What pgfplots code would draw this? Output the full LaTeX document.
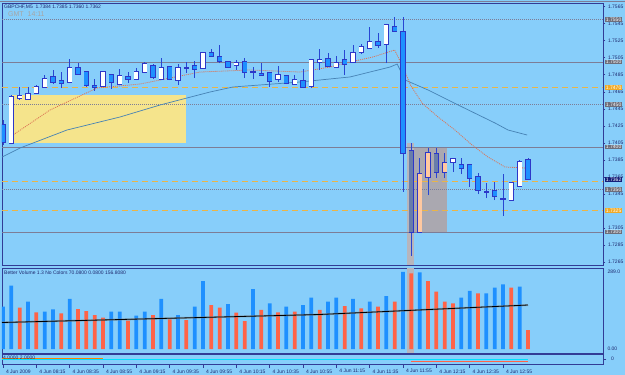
\documentclass[border=0pt]{standalone}
\usepackage{fontspec}
\setmainfont{Liberation Sans}
\usepackage{pgfplots}
\usepackage{pgfplotstable}
\pgfplotsset{compat=1.18}
\definecolor{bg}{RGB}{135,206,250}
\definecolor{axisblue}{RGB}{50,60,150}
\definecolor{navytxt}{RGB}{30,40,110}
\definecolor{wickc}{RGB}{40,70,210}
\definecolor{outc}{RGB}{45,55,200}
\definecolor{bearfill}{RGB}{30,144,255}
\definecolor{peach}{RGB}{255,200,160}
\definecolor{grayblue}{RGB}{105,125,170}
\definecolor{volblue}{RGB}{30,144,255}
\definecolor{volred}{RGB}{255,99,71}
\definecolor{hgray}{RGB}{125,125,150}
\definecolor{horange}{RGB}{235,180,70}
\definecolor{madot}{RGB}{220,115,85}
\definecolor{mablue}{RGB}{70,130,180}
\definecolor{yellowbox}{RGB}{245,228,140}
\definecolor{rectgray}{RGB}{170,168,176}
\definecolor{boxgray}{RGB}{110,110,122}
\definecolor{boxorange}{RGB}{240,170,40}
\definecolor{boxnavy}{RGB}{20,30,120}
\definecolor{indcyan}{RGB}{0,225,255}

\pgfplotstableread{
x lo hi l h
1 1.74047 1.74588 1.74047 1.74612
2 1.74576 1.74600 1.74553 1.74706
3 1.74565 1.74624 1.74565 1.74706
4 1.74635 1.74706 1.74624 1.74729
5 1.74706 1.74800 1.74706 1.74847
8 1.74765 1.74929 1.74753 1.75035
12 1.74718 1.74882 1.74706 1.74882
14 1.74741 1.74835 1.74729 1.74918
16 1.74800 1.74882 1.74788 1.74929
17 1.74882 1.74976 1.74871 1.75000
19 1.74800 1.74929 1.74788 1.75047
21 1.74788 1.74929 1.74729 1.74976
22 1.74929 1.74929 1.74871 1.75000
24 1.74929 1.75106 1.74918 1.75118
28 1.74965 1.74988 1.74906 1.75024
30 1.74882 1.74882 1.74800 1.74941
33 1.74800 1.74847 1.74765 1.74953
35 1.74741 1.74788 1.74741 1.74847
37 1.74718 1.75024 1.74694 1.75024
38 1.75000 1.75024 1.74906 1.75153
40 1.74941 1.74988 1.74929 1.75071
42 1.75000 1.75106 1.75000 1.75200
43 1.75118 1.75176 1.75094 1.75212
44 1.75165 1.75235 1.75165 1.75412
46 1.75212 1.75435 1.74988 1.75435
54 1.73824 1.73859 1.73706 1.73859
58 1.73471 1.73471 1.73400 1.73576
60 1.73388 1.73388 1.73188 1.73682
61 1.73376 1.73576 1.73376 1.73576
62 1.73541 1.73824 1.73541 1.73847
}\bull

\pgfplotstableread{
x lo hi l h
50 1.73000 1.73682 1.73000 1.73871
51 1.73647 1.73929 1.73435 1.73988
53 1.73706 1.73812 1.73635 1.73929
}\peachc

\pgfplotstableread{
x lo hi l h
0 1.74059 1.74259 1.74024 1.74318
6 1.74765 1.74824 1.74741 1.74906
7 1.74753 1.74776 1.74694 1.74882
9 1.74859 1.74929 1.74859 1.74988
10 1.74729 1.74882 1.74706 1.74882
11 1.74706 1.74718 1.74659 1.74800
13 1.74765 1.74847 1.74682 1.74847
15 1.74800 1.74824 1.74753 1.74882
18 1.74824 1.74953 1.74800 1.74976
20 1.74800 1.74941 1.74788 1.74941
23 1.74918 1.74953 1.74812 1.75012
25 1.75071 1.75106 1.75059 1.75153
26 1.75012 1.75059 1.74988 1.75200
27 1.74941 1.75000 1.74929 1.75012
29 1.74882 1.75000 1.74812 1.75047
31 1.74847 1.74859 1.74847 1.74988
32 1.74776 1.74871 1.74706 1.74871
34 1.74753 1.74835 1.74741 1.74847
36 1.74706 1.74776 1.74694 1.74918
39 1.74953 1.75035 1.74941 1.75106
41 1.74976 1.75024 1.74847 1.75141
45 1.75200 1.75235 1.75165 1.75341
47 1.75365 1.75412 1.75353 1.75529
48 1.73929 1.75353 1.73471 1.75529
55 1.73753 1.73788 1.73682 1.73871
56 1.73635 1.73788 1.73529 1.73788
57 1.73494 1.73647 1.73447 1.73694
59 1.73424 1.73482 1.73376 1.73588
63 1.73624 1.73847 1.73624 1.73871
}\bear

\pgfplotstableread{
x lo hi l h
49 1.73000 1.73953 1.72718 1.74047
52 1.73706 1.73918 1.73635 1.73988
}\grayc

\pgfplotstableread{
x v
0 158.8
1 237.6
3 177.5
5 140
6 149
8 187.7
13 140
14 140
16 125
17 140
19 187.7
21 127.6
23 158.8
24 255.2
27 168.9
30 225.2
32 171.5
34 158.8
36 165.1
37 193.3
39 177.5
40 192.5
42 187.7
44 177.5
46 198.9
48 289
50 288
55 192.5
56 217.7
58 209
59 230
60 242.8
62 233.8
}\volb

\pgfplotstableread{
x v
2 155
4 137.7
7 134
9 150.1
10 142.6
11 127.6
12 117.5
15 106.2
18 127.6
20 111.5
22 108.8
25 165.1
26 155
28 136.2
29 105.1
31 146.4
33 137.7
35 140
38 146.4
41 161.4
43 152.7
45 158.8
47 177.5
49 284.1
51 255.2
52 215
53 177.5
54 171.5
57 209
61 230
63 71.3
}\volr

\tikzset{
  tinyf/.style={font=\fontsize{5}{5}\selectfont, text=navytxt},
  rlbl/.style={anchor=west, inner sep=0.6pt, text=white, font=\fontsize{5}{5}\selectfont, xshift=2.2pt},
}
\pgfplotsset{
  wick/.style={draw=none, mark=none, forget plot, error bars/.cd, y dir=plus, y explicit, error mark=none, error bar style={line width=0.9pt, draw=wickc, solid}},
  bodyout/.style={draw=none, mark=none, forget plot, error bars/.cd, y dir=plus, y explicit, error mark=none, error bar style={line width=5.6pt, draw=#1, solid}},
  bodyin/.style={draw=none, mark=none, forget plot, error bars/.cd, y dir=plus, y explicit, error mark=none, error bar style={line width=4.0pt, draw=#1, solid}},
  panel/.style={scale only axis, width=601pt, xmin=-0.12, xmax=72, anchor=north west,
    axis line style={draw=axisblue, line width=0.8pt}, clip mode=individual,
    tick style={draw=axisblue, line width=0.5pt}, tick align=outside},
}

\begin{document}
\begin{tikzpicture}
\fill[bg] (0pt,0pt) rectangle (625pt,-375pt);
\path[use as bounding box] (0pt,0pt) rectangle (625pt,-375pt);
\draw[hgray, line width=0.8pt] (0pt,-1pt) -- (625pt,-1pt);

% ---------------- price panel ----------------
\begin{axis}[panel, name=price, at={(2pt,-3pt)}, height=262pt,
  ymin=1.72612, ymax=1.75694, xtick=\empty,
  ytick={1.7265,1.7285,1.7305,1.7345,1.7365,1.7385,1.7405,1.7425,1.7445,1.7465,1.7485,1.7505,1.7525,1.7545,1.7565},
  ytick pos=right, yticklabel pos=right, major tick length=2.5pt,
  scaled y ticks=false,
  yticklabel style={tinyf, xshift=-1pt},
  /pgf/number format/fixed, /pgf/number format/fixed zerofill,
  /pgf/number format/precision=4, /pgf/number format/assume math mode=true]
  % rectangles
  \fill[yellowbox] (axis cs:1.08,1.74047) rectangle (axis cs:21.96,1.74612);
  \fill[rectgray] (axis cs:48.48,1.7300) rectangle (axis cs:53.28,1.7400);
  \fill[rectgray!85!white] (axis cs:48.48,1.72612) rectangle (axis cs:49.32,1.74047);
  % horizontal levels
  \addplot[hgray, line width=0.6pt, dash pattern=on 1pt off 1pt] coordinates {(-0.12,1.7550) (72,1.7550)};
  \addplot[hgray, line width=0.8pt] coordinates {(-0.12,1.7500) (72,1.7500)};
  \addplot[horange, line width=0.8pt, dash pattern=on 6pt off 4pt] coordinates {(-0.12,1.7470) (72,1.7470)};
  \addplot[hgray, line width=0.6pt, dash pattern=on 1pt off 1pt] coordinates {(-0.12,1.7450) (72,1.7450)};
  \addplot[hgray, line width=0.8pt] coordinates {(-0.12,1.7400) (72,1.7400)};
  \addplot[horange, line width=0.8pt, dash pattern=on 6pt off 4pt] coordinates {(-0.12,1.7360) (72,1.7360)};
  \addplot[hgray, line width=0.6pt, dash pattern=on 1pt off 1pt] coordinates {(-0.12,1.7350) (72,1.7350)};
  \addplot[horange, line width=0.8pt, dash pattern=on 6pt off 4pt] coordinates {(-0.12,1.7325) (72,1.7325)};
  \addplot[hgray, line width=0.8pt] coordinates {(-0.12,1.7300) (72,1.7300)};
  % moving averages
  \addplot[mablue, line width=0.7pt] coordinates {
    (-0.12,1.73882) (2.04,1.73988) (7.68,1.74200) (14.04,1.74353) (18.84,1.74494)
    (24.84,1.74647) (27.6,1.74706) (35.65,1.74765) (41.65,1.74824) (46.45,1.74941)
    (47.3,1.74976) (48.25,1.74788) (51,1.74671) (55.1,1.74471) (59.05,1.74282)
    (60.6,1.74200) (62.9,1.74141)};
  \addplot[madot, line width=0.8pt, dash pattern=on 1pt off 1pt] coordinates {
    (0.84,1.74118) (5.64,1.74435) (11.28,1.74694) (16.44,1.74741) (23.64,1.74882)
    (29.65,1.74906) (35.65,1.74882) (39.25,1.74941) (41.65,1.75000) (44.4,1.75059)
    (47,1.75141) (48,1.74941) (48.9,1.74729) (50.28,1.74518) (52.2,1.74353)
    (54.24,1.74200) (56.28,1.74024) (58.2,1.73882) (60.24,1.73765) (62.64,1.73753)};
  % wicks
  \addplot[wick] table[x=x, y=l, y error expr=\thisrow{h}-\thisrow{l}] {\bull};
  \addplot[wick] table[x=x, y=l, y error expr=\thisrow{h}-\thisrow{l}] {\bear};
  \addplot[wick] table[x=x, y=l, y error expr=\thisrow{h}-\thisrow{l}] {\peachc};
  \addplot[wick] table[x=x, y=l, y error expr=\thisrow{h}-\thisrow{l}] {\grayc};
  % bodies
  \addplot[bodyout=outc] table[x=x, y expr=\thisrow{lo}-0.00009, y error expr=\thisrow{hi}-\thisrow{lo}+0.00018] {\bull};
  \addplot[bodyin=white] table[x=x, y=lo, y error expr=\thisrow{hi}-\thisrow{lo}] {\bull};
  \addplot[bodyout=outc] table[x=x, y expr=\thisrow{lo}-0.00009, y error expr=\thisrow{hi}-\thisrow{lo}+0.00018] {\peachc};
  \addplot[bodyin=peach] table[x=x, y=lo, y error expr=\thisrow{hi}-\thisrow{lo}] {\peachc};
  \addplot[bodyout=outc] table[x=x, y expr=\thisrow{lo}-0.00009, y error expr=\thisrow{hi}-\thisrow{lo}+0.00018] {\bear};
  \addplot[bodyin=bearfill] table[x=x, y=lo, y error expr=\thisrow{hi}-\thisrow{lo}] {\bear};
  \addplot[bodyout=outc] table[x=x, y expr=\thisrow{lo}-0.00009, y error expr=\thisrow{hi}-\thisrow{lo}+0.00018] {\grayc};
  \addplot[bodyin=grayblue] table[x=x, y=lo, y error expr=\thisrow{hi}-\thisrow{lo}] {\grayc};
  % titles
  \node[anchor=north west, font=\fontsize{5}{5}\selectfont, text=navytxt, inner sep=0pt] at (rel axis cs:0,1) [xshift=2pt, yshift=-1.5pt] {GBPCHF,M5\ \ 1.7384 1.7385 1.7360 1.7362};
  \node[anchor=north west, font=\fontsize{7}{7}\selectfont, text=gray!70, inner sep=0pt] at (rel axis cs:0,1) [xshift=6pt, yshift=-8.5pt] {GMT\ \ 14:11};
  % right labels
  \node[rlbl, fill=boxgray] at (axis cs:72,1.7550) {1.7550};
  \node[rlbl, fill=boxgray] at (axis cs:72,1.7500) {1.7500};
  \node[rlbl, fill=boxorange] at (axis cs:72,1.7470) {1.7470};
  \node[rlbl, fill=boxgray] at (axis cs:72,1.7450) {1.7450};
  \node[rlbl, fill=boxgray] at (axis cs:72,1.7400) {1.7400};
  \node[rlbl, fill=boxnavy] at (axis cs:72,1.7362) {1.7362};
  \node[rlbl, fill=boxgray] at (axis cs:72,1.7350) {1.7350};
  \node[rlbl, fill=boxorange] at (axis cs:72,1.7325) {1.7325};
  \node[rlbl, fill=boxgray] at (axis cs:72,1.7300) {1.7300};
\end{axis}

% ---------------- volume panel ----------------
\begin{axis}[panel, name=vol, at={(2pt,-268pt)}, height=85pt,
  ymin=-15, ymax=304, xtick=\empty, ytick={0,289}, yticklabels={0.00,289.0},
  ytick pos=right, yticklabel pos=right, major tick length=0pt,
  yticklabel style={tinyf, xshift=1pt}]
  \fill[rectgray!85!white] (axis cs:48.48,-15) rectangle (axis cs:49.32,304);
  \addplot[ybar, bar width=3.8pt, bar shift=0pt, fill=volblue, draw=none] table[x=x,y=v] {\volb};
  \addplot[ybar, bar width=3.8pt, bar shift=0pt, fill=volred, draw=none] table[x=x,y=v] {\volr};
  \addplot[gray, line width=2pt, opacity=0.5] coordinates {(-0.12,99.5) (38,129.5) (63,165.1)};
  \addplot[black, line width=0.8pt] coordinates {(-0.12,99.5) (38,129.5) (63,165.1)};
  \node[anchor=north west, tinyf, inner sep=0pt] at (rel axis cs:0,1) [xshift=2pt, yshift=-3pt] {Better Volume 1.3 No Colors 70.0800 0.0800 156.8080};
\end{axis}

% ---------------- indicator panel ----------------
\begin{axis}[panel, name=ind, at={(2pt,-354pt)}, height=10pt,
  ymin=0, ymax=6.67, ytick={3.33}, yticklabels={0}, ytick pos=right, yticklabel pos=right,
  yticklabel style={tinyf, xshift=1pt},
  xtick={0,4,...,60}, xtick pos=bottom, major tick length=3.5pt,
  xticklabels={4 Jun 2009,4 Jun 08:15,4 Jun 08:35,4 Jun 08:55,4 Jun 09:15,4 Jun 09:35,4 Jun 09:55,4 Jun 10:15,4 Jun 10:35,4 Jun 10:55,4 Jun 11:15,4 Jun 11:35,4 Jun 11:55,4 Jun 12:15,4 Jun 12:35,4 Jun 12:55},
  xticklabel style={anchor=north west, tinyf, xshift=-0.5pt, yshift=1.5pt}]
  \addplot[indcyan, line width=1.3pt] coordinates {(-0.12,3) (63,3)};
  \addplot[orange, line width=0.9pt] coordinates {(-0.12,4) (12,4)};
  \addplot[volred, line width=0.9pt] coordinates {(49,2) (63,2)};
  \node[anchor=west, tinyf, inner sep=0pt] at (axis cs:0,4.2) {4.0000 2.0000};
\end{axis}
\end{tikzpicture}
\end{document}
